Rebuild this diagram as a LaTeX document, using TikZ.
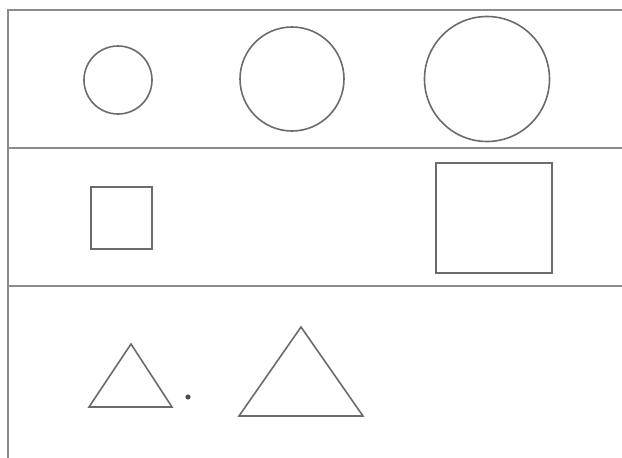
\documentclass[tikz,border=0pt]{standalone}
\begin{document}
\begin{tikzpicture}[x=1pt,y=-1pt,
  frameline/.style={draw=black!45,line width=1.2pt},
  figline/.style={draw=black!58,line width=1.6pt,line join=miter}]
\useasboundingbox (0,0) rectangle (622,458);
% frame lines
\draw[frameline] (8,9) -- (8,458);
\draw[frameline] (8,10) -- (622,10);
\draw[frameline] (8,148) -- (622,148);
\draw[frameline] (8,286) -- (622,286);
% circles
\draw[figline] (118,80) circle (34);
\draw[figline] (292,79) circle (52);
\draw[figline] (487,79) circle (62.5);
% squares
\draw[figline] (91,187) rectangle (152,249);
\draw[figline] (436,163) rectangle (552,273);
% triangles
\draw[figline] (131,344) -- (172,407) -- (89,407) -- cycle;
\fill[black!70] (188,397) circle (2.6);
\draw[figline] (301,327) -- (363,416) -- (239,416) -- cycle;
\end{tikzpicture}
\end{document}
